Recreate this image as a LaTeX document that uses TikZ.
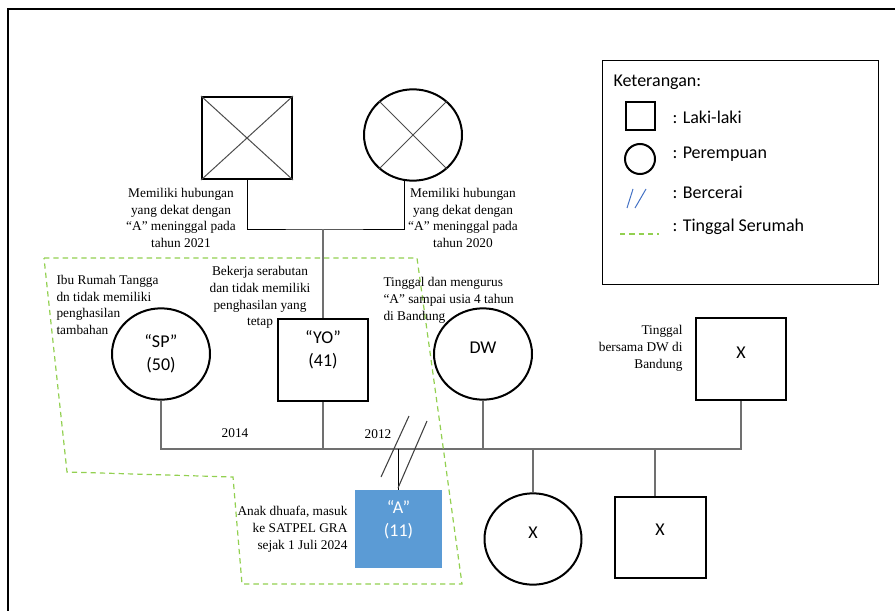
\documentclass[tikz,border=0pt]{standalone}
\usepackage{fontspec}
\setmainfont{Liberation Serif}
\newfontfamily\calibri{Carlito}
\usetikzlibrary{shapes.geometric}

\definecolor{anakBlue}{RGB}{91,155,213}
\definecolor{serumahGreen}{RGB}{146,208,80}
\definecolor{kinGray}{RGB}{112,112,112}
\definecolor{ceraiBlue}{RGB}{68,114,196}

\tikzset{every picture/.style={line width=0.75pt}}
\tikzset{
	male/.style={draw, line width=1.5pt, minimum width=67.5pt, minimum height=61.5pt, inner sep=0pt},
	female/.style={draw, ellipse, line width=1.5pt, minimum width=73.5pt, minimum height=68.5pt, inner sep=0pt},
	kin/.style={draw=kinGray, line width=1.2pt},
	remark/.style={inner sep=0.75pt, font=\fontsize{10}{12.6}\selectfont},
	who/.style={inner sep=0.75pt, align=center, font=\calibri\fontsize{13.5}{17.3}\selectfont},
	serumah/.style={draw=serumahGreen, line width=0.9pt, dash pattern=on 4pt off 3pt},
	cerai/.style={draw=black!75, line width=0.8pt},
}

\begin{document}
\begin{tikzpicture}[x=0.75pt,y=0.75pt,yscale=-1,xscale=1]
		\useasboundingbox (0,0) rectangle (895,610);
		%Shape: Frame
		\draw [line width=1.8pt] (8,9) rectangle (930,640);
		
		%Shape: Square [id:kakek]
		\node [male] (gf) at (247,138) {};
		\draw [color=black!70] (gf.north west) -- (gf.south east) (gf.north east) -- (gf.south west);
		%Shape: Circle [id:nenek]
		\node [female] (gm) at (413,135) {};
		\draw [color=black!70] (gm.135) -- (gm.315) (gm.45) -- (gm.225);
		
		%Shape: Circle [id:sp]
		\node [female] (sp) at (161,354) {};
		%Shape: Square [id:yo]
		\node [male] (yo) at (323,360) {};
		%Shape: Circle [id:dw]
		\node [female] (dw) at (483,354) {};
		%Shape: Square [id:xr]
		\node [male] (xr) at (741,359) {};
		%Shape: Square [id:anak]
		\node [fill=anakBlue, minimum width=65.25pt, minimum height=58.5pt, inner sep=0pt] (a) at (398.5,529) {};
		%Shape: Circle [id:kc]
		\node [female, minimum width=72.75pt] (kc) at (533,539) {};
		%Shape: Square [id:ks]
		\node [male, minimum width=68.25pt, minimum height=60.75pt] (ks) at (660,537) {};
		
		%Straight Lines [id:kakek-nenek]
		\coordinate (sib) at (323,229);
		\draw (gf.south) |- (sib) -| (gm.260);
		\draw [kin] (sib) -- (yo.north);
		%Straight Lines [id:bar]
		\coordinate (bar) at (161,449);
		\draw [kin] (sp.south) -- (bar) -| (xr.south);
		\draw [kin] (yo.south) -- (yo.south |- bar);
		\draw [kin] (dw.south) -- (dw.south |- bar);
		\draw [kin] (kc.north) -- (kc.north |- bar);
		\draw [kin] ([xshift=-3.75pt]ks.north) -- ([xshift=-3.75pt]ks.north |- bar);
		\draw (a.north) -- (a.north |- bar);
		%Straight Lines [id:cerai]
		\draw [cerai] (381,477) -- (409,416);
		\draw [cerai] (398,488) -- (427,421);
		
		%Shape: Polygon [id:serumah]
		\draw [serumah] (44,258) -- (417,258) -- (462,584) -- (242,584) -- (233,477) -- (67,472) -- cycle;
		
		% Text Node
		\node [who] (sp-t) at (161,353.5) {“SP”\\(50)};
		% Text Node
		\node [who] (yo-t) at (323,350) {“YO”\\(41)};
		% Text Node
		\node [who] (dw-t) at (483,348) {DW};
		% Text Node
		\node [who] (xr-t) at (741,353) {X};
		% Text Node
		\node [who, text=white] (a-t) at (398.5,520) {“A”\\(11)};
		% Text Node
		\node [who] (kc-t) at (533,533) {X};
		% Text Node
		\node [who] (ks-t) at (660,530) {X};
		
		% Text Node
		\node [remark, align=center] (gf-n) at (181,218) {Memiliki hubungan\\yang dekat dengan\\“A” meninggal pada\\tahun 2021};
		% Text Node
		\node [remark, align=center] (gm-n) at (463,218) {Memiliki hubungan\\yang dekat dengan\\“A” meninggal pada\\tahun 2020};
		% Text Node
		\node [remark, align=left, anchor=west] (sp-n) at (55,305) {Ibu Rumah Tangga\\dn tidak memiliki\\penghasilan\\tambahan};
		% Text Node
		\node [remark, align=center] (yo-n) at (260,297.5) {Bekerja serabutan\\dan tidak memiliki\\penghasilan yang\\tetap};
		% Text Node
		\node [remark, align=left, anchor=west] (dw-n) at (382,300.5) {Tinggal dan mengurus\\“A” sampai usia 4 tahun\\di Bandung};
		% Text Node
		\node [remark, align=right, anchor=east] (xr-n) at (684,348.5) {Tinggal\\bersama DW di\\Bandung};
		% Text Node
		\node [remark, align=right, anchor=east] (a-n) at (349,529.5) {Anak dhuafa, masuk\\ke SATPEL GRA\\sejak 1 Juli 2024};
		% Text Node
		\node [remark] (y14) at (235,433) {2014};
		% Text Node
		\node [remark] (y12) at (378,434) {2012};
		
		%Shape: Rectangle [id:keterangan]
		\draw (602,61) rectangle (878,284);
		\node [who, anchor=west] (ket) at (612,82) {Keterangan:};
		\node [draw, line width=1.5pt, minimum width=21.75pt, minimum height=21pt, inner sep=0pt] (ket-m) at (640.5,116) {};
		\node [draw, circle, line width=1.5pt, minimum size=22.5pt, inner sep=0pt] (ket-f) at (640,159) {};
		\draw [draw=ceraiBlue] (627,208) -- (633,189) (635,208) -- (646,189);
		\draw [serumah] (620,234) -- (659,234);
		\node [who, anchor=west] (ket-mt) at (671,117) {: Laki-laki};
		\node [who, anchor=west] (ket-ft) at (671,154) {: Perempuan};
		\node [who, anchor=west] (ket-ct) at (671,192) {: Bercerai};
		\node [who, anchor=west] (ket-st) at (671,227) {: Tinggal Serumah};
	\end{tikzpicture}
\end{document}
